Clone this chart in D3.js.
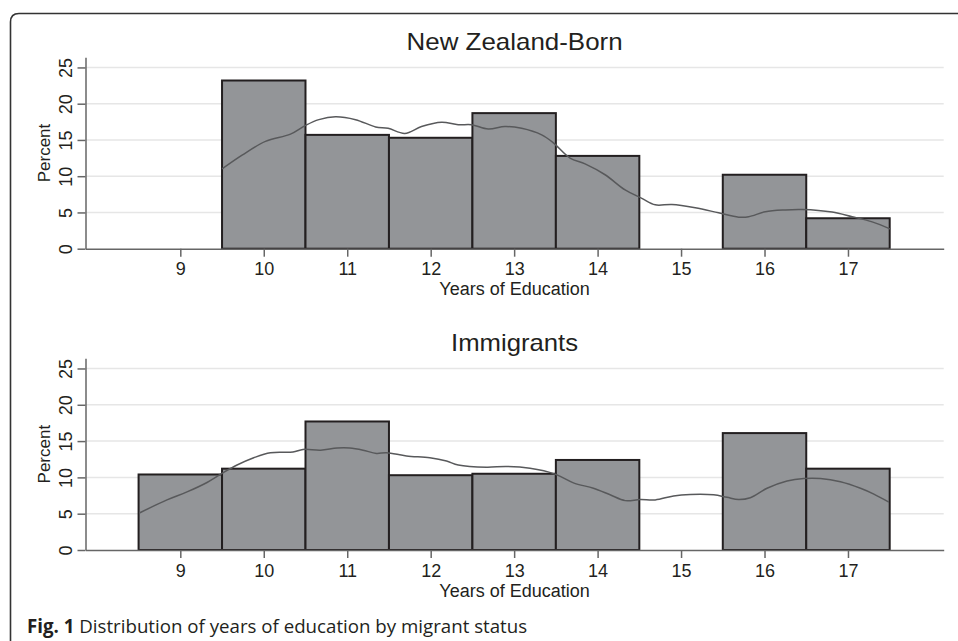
<!DOCTYPE html>
<html>
<head>
<meta charset="utf-8">
<script src="https://cdn.jsdelivr.net/npm/d3@7/dist/d3.min.js"></script>
<style>
  html, body { margin: 0; padding: 0; background: #fff; }
  svg { display: block; }
</style>
</head>
<body>
<svg id="chart" width="958" height="641"></svg>
<script>
// ---------- DATA ----------
const years = [9, 10, 11, 12, 13, 14, 15, 16, 17];
const xTicks = [9, 10, 11, 12, 13, 14, 15, 16, 17];
const yTicks = [0, 5, 10, 15, 20, 25];

const panelTitles = ["New Zealand-Born", "Immigrants"];
const xAxisTitle = "Years of Education";
const yAxisTitle = "Percent";
const captionBold = "Fig. 1";
const captionText = " Distribution of years of education by migrant status";

// Percent per year of education (0 = no bar)
const nzBornPct = [0, 23.2, 15.7, 15.3, 18.7, 12.8, 0, 10.2, 4.2];
const immigrantPct = [10.4, 11.2, 17.7, 10.3, 10.5, 12.4, 0, 16.1, 11.2];

// Kernel density overlay (x = years, y = percent)
const nzKdeX = [9.50, 9.74, 10.02, 10.32, 10.50, 10.66, 10.86, 11.10, 11.34, 11.49, 11.69, 11.89, 12.13, 12.33, 12.49, 12.69, 12.89, 13.09, 13.33, 13.47, 13.67, 13.85, 14.09, 14.33, 14.53, 14.69, 14.89, 15.17, 15.45, 15.69, 15.81, 16.01, 16.25, 16.45, 16.81, 17.05, 17.29, 17.51];
const nzKdeY = [11.0, 12.9, 14.8, 15.8, 17.0, 17.8, 18.2, 17.8, 16.8, 16.6, 15.9, 16.85, 17.45, 17.1, 17.1, 16.5, 16.85, 16.6, 15.7, 14.6, 12.5, 11.7, 10.2, 8.1, 6.95, 6.05, 6.1, 5.65, 4.95, 4.35, 4.4, 5.1, 5.35, 5.4, 5.05, 4.4, 3.7, 2.7];

const imKdeX = [8.51, 8.84, 9.08, 9.32, 9.50, 9.68, 9.88, 10.08, 10.35, 10.47, 10.68, 10.88, 11.03, 11.19, 11.35, 11.47, 11.71, 11.99, 12.19, 12.33, 12.67, 12.91, 13.19, 13.49, 13.71, 13.95, 14.15, 14.33, 14.51, 14.69, 14.91, 15.11, 15.39, 15.55, 15.69, 15.83, 16.03, 16.27, 16.47, 16.67, 16.91, 17.15, 17.31, 17.49];
const imKdeY = [5.1, 6.9, 8.0, 9.3, 10.55, 11.7, 12.7, 13.4, 13.5, 13.85, 13.75, 14.05, 14.05, 13.75, 13.3, 13.4, 12.95, 12.7, 12.25, 11.7, 11.4, 11.5, 11.25, 10.45, 9.25, 8.5, 7.6, 6.8, 6.95, 6.9, 7.45, 7.65, 7.6, 7.25, 6.95, 7.2, 8.5, 9.5, 9.85, 9.85, 9.4, 8.5, 7.7, 6.6];

// ---------- DRAWING ----------
const svg = d3.select("#chart");
const W = 958, H = 641;
svg.append("rect").attr("width", W).attr("height", H).attr("fill", "#fff");

// outer frame (open on the right and bottom)
svg.append("path")
  .attr("d", "M10.5,641 L10.5,22 Q10.5,13.5 19,13.5 L958,13.5")
  .attr("fill", "none").attr("stroke", "#333").attr("stroke-width", 1.6);

const chartFont = "'Liberation Sans', Arial, Helvetica, sans-serif";
const textColor = "#231f20";

const panels = [
  { title: panelTitles[0], titleLen: 216, values: nzBornPct, kx: nzKdeX, ky: nzKdeY, top: 57.3, bottom: 248.7 },
  { title: panelTitles[1], titleLen: 127, values: immigrantPct, kx: imKdeX, ky: imKdeY, top: 358.3, bottom: 550 }
];

const left = 85.5, right = 943.7;

panels.forEach(p => {
  const g = svg.append("g");
  const x = d3.scaleLinear().domain([7.864, 18.147]).range([left, right]);
  const y = d3.scaleLinear().domain([0, 26.4]).range([p.bottom, p.top]);

  // gridlines
  g.append("g").selectAll("line")
    .data(yTicks.filter(t => t > 0))
    .join("line")
    .attr("x1", left).attr("x2", right)
    .attr("y1", d => y(d)).attr("y2", d => y(d))
    .attr("stroke", "#e6e6e6").attr("stroke-width", 1.5);

  // bars
  const barData = years.map((yr, i) => ({ yr, v: p.values[i] })).filter(d => d.v > 0);
  g.append("g").selectAll("rect")
    .data(barData)
    .join("rect")
    .attr("x", d => x(d.yr - 0.5))
    .attr("width", d => x(d.yr + 0.5) - x(d.yr - 0.5))
    .attr("y", d => y(d.v))
    .attr("height", d => y(0) - y(d.v))
    .attr("fill", "#939598")
    .attr("stroke", "#231f20")
    .attr("stroke-width", 2);

  // density curve
  const pts = p.kx.map((xv, i) => [xv, p.ky[i]]);
  g.append("path")
    .datum(pts)
    .attr("d", d3.line().x(d => x(d[0])).y(d => y(d[1])).curve(d3.curveCatmullRom.alpha(0.5)))
    .attr("fill", "none")
    .attr("stroke", "#58595b")
    .attr("stroke-width", 1.5);

  // y axis
  const ya = g.append("g")
    .attr("transform", `translate(${left},0)`)
    .call(d3.axisLeft(y).tickValues(yTicks).tickSize(8).tickSizeOuter(0));
  ya.select(".domain").attr("stroke", "#666").attr("stroke-width", 1.5);
  ya.selectAll(".tick line").attr("stroke", "#666").attr("stroke-width", 1.5);
  ya.selectAll(".tick text")
    .attr("transform", "rotate(-90)")
    .attr("x", 0).attr("y", -14).attr("dy", 0)
    .attr("text-anchor", "middle")
    .attr("font-family", chartFont).attr("font-size", 18)
    .attr("fill", textColor);

  // x axis
  const xa = g.append("g")
    .attr("transform", `translate(0,${p.bottom})`)
    .call(d3.axisBottom(x).tickValues(xTicks).tickSize(8).tickSizeOuter(0).tickFormat(d3.format("d")));
  xa.select(".domain").attr("stroke", "#666").attr("stroke-width", 1.5);
  xa.selectAll(".tick line").attr("stroke", "#666").attr("stroke-width", 1.5);
  xa.selectAll(".tick text")
    .attr("y", 14).attr("dy", "0.71em")
    .attr("font-family", chartFont).attr("font-size", 18)
    .attr("fill", textColor);

  // panel title
  g.append("text")
    .attr("x", (left + right) / 2).attr("y", p.top - 7)
    .attr("text-anchor", "middle")
    .attr("font-family", chartFont).attr("font-size", 24)
    .attr("textLength", p.titleLen).attr("lengthAdjust", "spacingAndGlyphs")
    .attr("fill", textColor)
    .text(p.title);

  // x axis title
  g.append("text")
    .attr("x", (left + right) / 2).attr("y", p.bottom + 46.5)
    .attr("text-anchor", "middle")
    .attr("font-family", chartFont).attr("font-size", 18)
    .attr("fill", textColor)
    .text(xAxisTitle);

  // y axis title
  g.append("text")
    .attr("transform", `translate(50,${(p.top + p.bottom) / 2}) rotate(-90)`)
    .attr("text-anchor", "middle")
    .attr("font-family", chartFont).attr("font-size", 17)
    .attr("fill", textColor)
    .text(yAxisTitle);
});

// caption
const cap = svg.append("text")
  .attr("x", 27).attr("y", 633)
  .attr("font-family", "'Open Sans', 'Noto Sans', sans-serif")
  .attr("font-size", 18.7)
  .attr("fill", textColor);
cap.append("tspan").attr("font-weight", "bold").text(captionBold);
cap.append("tspan").text(captionText);
</script>
</body>
</html>
